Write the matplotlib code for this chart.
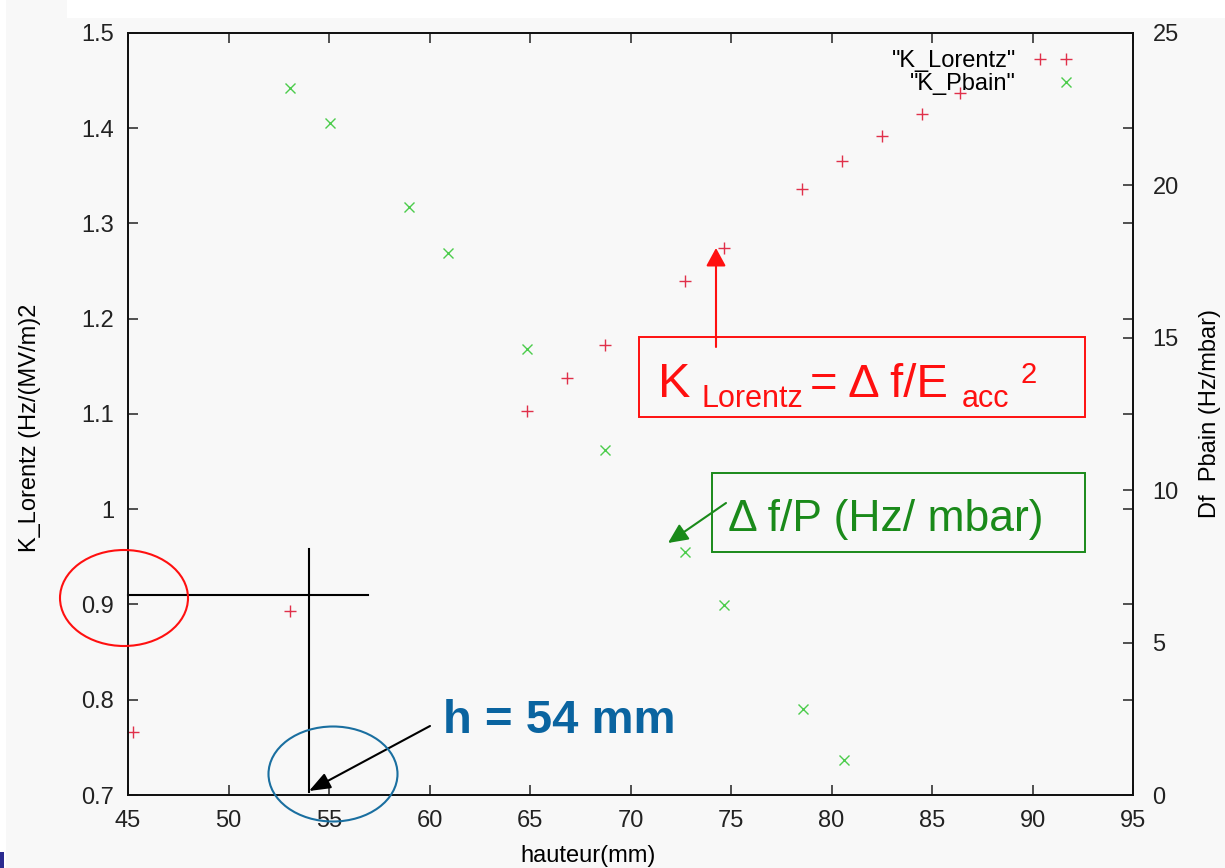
import matplotlib
matplotlib.use("Agg")
import matplotlib.pyplot as plt
from matplotlib.patches import Ellipse, Rectangle

plt.rcParams['font.family'] = ['Liberation Sans', 'DejaVu Sans']

# ---- data ----
h_lorentz = [45.25, 53.06, 64.85, 66.84, 68.73, 72.7, 74.65, 78.53, 80.5, 82.5, 84.5, 86.4, 90.37]
k_lorentz = [0.766, 0.893, 1.103, 1.138, 1.172, 1.240, 1.274, 1.336, 1.366, 1.392, 1.415, 1.437, 1.473]
h_pbain = [53.06, 55.05, 58.98, 60.92, 64.85, 68.73, 72.7, 74.65, 78.6, 80.6]
k_pbain = [23.2, 22.05, 19.29, 17.78, 14.63, 11.32, 7.97, 6.23, 2.82, 1.15]
x_ticks = [45, 50, 55, 60, 65, 70, 75, 80, 85, 90, 95]
yl_ticks = [0.7, 0.8, 0.9, 1.0, 1.1, 1.2, 1.3, 1.4, 1.5]
yl_labels = ['0.7', '0.8', '0.9', '1', '1.1', '1.2', '1.3', '1.4', '1.5']
yr_ticks = [0, 5, 10, 15, 20, 25]
H_SEL, K_SEL = 54, 0.91

W, H = 1225, 868
BG = '#f8f8f8'
RED_PT = '#e0304a'
GREEN_PT = '#4ccc4c'

fig = plt.figure(figsize=(W / 100, H / 100), dpi=100, facecolor=BG)

def P(x, y):
    return (x / W, 1 - y / H)

ax = fig.add_axes([128 / W, 1 - 795 / H, (1133 - 128) / W, (795 - 33) / H])
ax.set_facecolor(BG)
ax2 = ax.twinx()

l1, = ax.plot(h_lorentz, k_lorentz, linestyle='none', marker='+', color=RED_PT,
              markersize=8, markeredgewidth=1.0, label='"K_Lorentz"', clip_on=False)
l2, = ax2.plot(h_pbain, k_pbain, linestyle='none', marker='x', color=GREEN_PT,
               markersize=7, markeredgewidth=1.0, label='"K_Pbain"', clip_on=False)

ax.set_xlim(45, 95)
ax.set_ylim(0.7, 1.5)
ax2.set_ylim(0, 25)
ax.set_xticks(x_ticks)
ax.set_xticklabels([str(v) for v in x_ticks])
ax.set_yticks(yl_ticks)
ax.set_yticklabels(yl_labels)
ax2.set_yticks(yr_ticks)
ax2.set_yticklabels([str(v) for v in yr_ticks])

TS = 17
ax.tick_params(axis='both', direction='in', length=7, width=1.1, labelsize=TS,
               top=True, right=True, labelright=False, colors='#222222')
ax.tick_params(axis='y', pad=10)
ax.tick_params(axis='x', pad=11)
ax2.tick_params(axis='y', direction='in', length=7, width=1.1, labelsize=TS, pad=14,
                colors='#222222')
for a in (ax, ax2):
    for s in a.spines.values():
        s.set_linewidth(1.3)
        s.set_color('#111111')

ax.set_xlabel('hauteur(mm)', fontsize=TS)
ax.set_ylabel('K_Lorentz (Hz/(MV/m)2', fontsize=TS)
ax2.set_ylabel('Df  Pbain (Hz/mbar)', fontsize=TS)
ax.xaxis.set_label_coords(0.458, -0.066)
ax.yaxis.set_label_coords(-0.087, 0.482)
ax2.yaxis.set_label_coords(1.066, 0.5)

leg = ax2.legend(handles=[l1, l2], loc='upper right', bbox_to_anchor=(0.966, 0.99),
                 borderaxespad=0, frameon=False, markerfirst=False, fontsize=17,
                 handlelength=2.0, handletextpad=1.1, labelspacing=0.05, borderpad=0.4)

# ---- annotations ----
ax.plot([45, 56.94], [K_SEL, K_SEL], color='black', lw=1.5, clip_on=False)
ax.plot([H_SEL, H_SEL], [0.703, 0.958], color='black', lw=1.5)

fig.add_artist(Ellipse(P(124, 598), 128 / W, 96 / H, transform=fig.transFigure,
                       fill=False, edgecolor='#ff1010', lw=1.5))
fig.add_artist(Ellipse(P(333, 774), 129 / W, 95 / H, transform=fig.transFigure,
                       fill=False, edgecolor='#1a6fa0', lw=1.5))

fig.text(*P(443, 733), 'h = 54 mm', fontsize=34, fontweight='bold', color='#0a64a0',
         ha='left', va='baseline')
ax.annotate('', xy=P(309, 791), xytext=P(430, 726), xycoords='figure fraction',
            textcoords='figure fraction',
            arrowprops=dict(arrowstyle='-|>,head_length=0.65,head_width=0.25',
                            mutation_scale=20, color='black', lw=1.5,
                            shrinkA=0, shrinkB=0))

# red formula box
RED = '#ff1010'
fig.add_artist(Rectangle(P(639, 417), (1085 - 639) / W, (417 - 337) / H,
                         transform=fig.transFigure, fill=False, edgecolor=RED, lw=1.4))
fig.text(*P(658, 397), 'K', fontsize=35, color=RED, va='baseline')
fig.text(*P(702, 407), 'Lorentz', fontsize=22, color=RED, va='baseline')
fig.text(*P(810, 397), '= Δ f/E', fontsize=34, color=RED, va='baseline')
fig.text(*P(962, 407), 'acc', fontsize=22, color=RED, va='baseline')
fig.text(*P(1021, 383), '2', fontsize=21, color=RED, va='baseline')
ax.annotate('', xy=P(716, 248), xytext=P(716, 347), xycoords='figure fraction',
            textcoords='figure fraction',
            arrowprops=dict(arrowstyle='-|>,head_length=0.55,head_width=0.3',
                            mutation_scale=20, color=RED, lw=1.5,
                            shrinkA=0, shrinkB=0))

# green box
GREEN = '#1a8a1a'
fig.add_artist(Rectangle(P(712, 552), (1085 - 712) / W, (552 - 473) / H,
                         transform=fig.transFigure, fill=False, edgecolor=GREEN, lw=1.4))
fig.text(*P(728, 531), 'Δ f/P (Hz/ mbar)', fontsize=32, color=GREEN, va='baseline')
ax.annotate('', xy=P(668, 543), xytext=P(726, 503), xycoords='figure fraction',
            textcoords='figure fraction',
            arrowprops=dict(arrowstyle='-|>,head_length=0.6,head_width=0.28',
                            mutation_scale=20, color=GREEN, lw=1.5,
                            shrinkA=0, shrinkB=0))

# slide artifacts
fig.add_artist(Rectangle((67 / W, 1 - 18 / H), 1 - 67 / W, 18 / H, transform=fig.transFigure,
                         facecolor='white', edgecolor='none', zorder=-5))
fig.add_artist(Rectangle((0, 0), 6 / W, 1, transform=fig.transFigure,
                         facecolor='white', edgecolor='none', zorder=-5))
fig.add_artist(Rectangle((0, 0), 4 / W, 16 / H, transform=fig.transFigure,
                         facecolor='#2b2b90', edgecolor='none'))

fig.savefig('out.png', dpi=100, facecolor=BG)
